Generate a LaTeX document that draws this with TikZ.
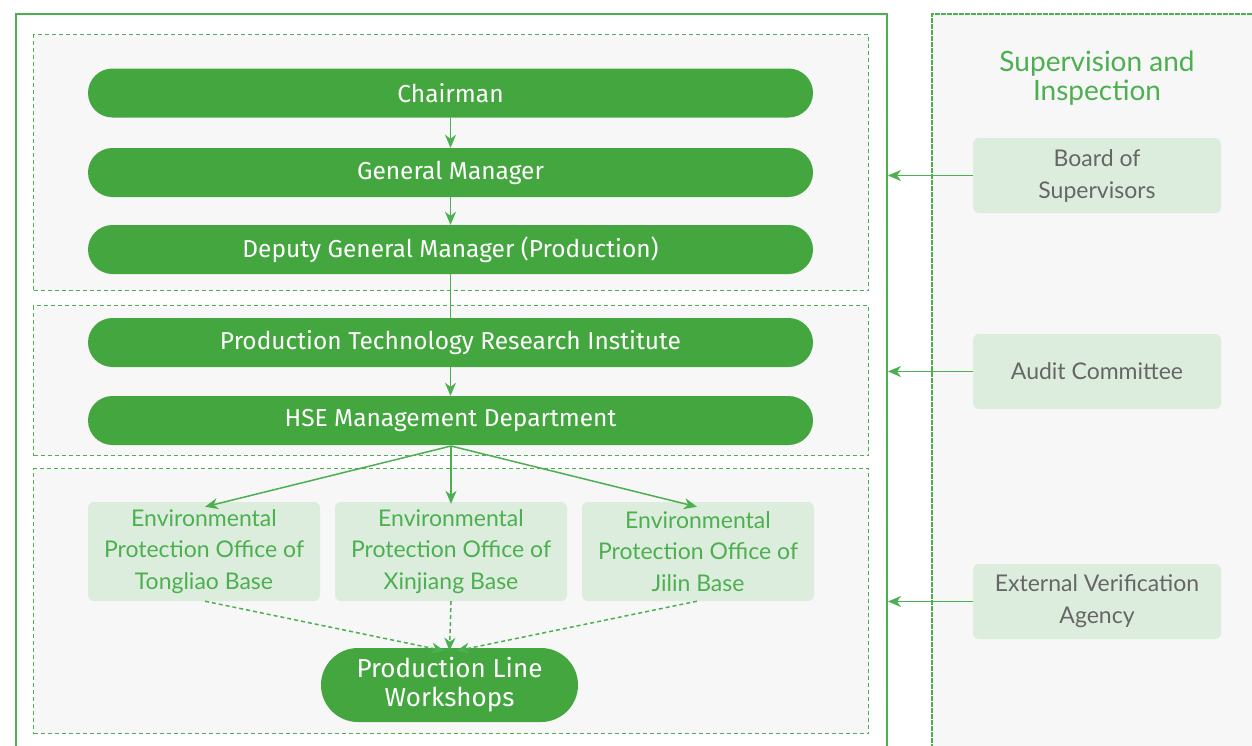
\documentclass[tikz,border=0pt]{standalone}
\usepackage{fontspec}
\setmainfont{Fira Sans}
\newfontfamily\softfont{Lato}
\usetikzlibrary{arrows.meta}
\definecolor{gdark}{HTML}{43A63F}
\definecolor{gline}{HTML}{4CAF50}
\definecolor{glight}{HTML}{DDEDDD}
\definecolor{bgray}{HTML}{F7F7F7}
\definecolor{tgray}{HTML}{666666}
\tikzset{
  pill/.style={draw=none, fill=gdark, text=white, rounded corners=24.5pt, minimum width=725pt, minimum height=49pt, inner sep=0pt, font=\fontsize{24.5}{28}\selectfont},
  envbox/.style={draw=none, fill=glight, text=gline, rounded corners=6pt, minimum width=232pt, minimum height=99pt, inner sep=0pt, align=center, font=\softfont\fontsize{23}{31.5}\selectfont},
  supbox/.style={draw=none, fill=glight, text=tgray, rounded corners=6pt, minimum width=248pt, minimum height=75pt, inner sep=0pt, align=center, font=\softfont\fontsize{23}{32}\selectfont},
  grp/.style={draw=gline, fill=bgray, line width=1pt, dash pattern=on 4pt off 3pt},
  conn/.style={draw=gline, line width=1.5pt, -{Stealth[length=13pt,width=11pt,inset=4pt]}},
  dconn/.style={conn, dash pattern=on 4pt off 3pt},
}
\begin{document}
\begin{tikzpicture}[x=1pt,y=-1pt]
\useasboundingbox (0,0) rectangle (1252,745);
\clip (0,0) rectangle (1252,745);
\fill[white] (0,0) rectangle (1252,745);
% outer frames
\node[draw=gline, line width=2pt, fill=white, minimum width=871pt, minimum height=780pt, inner sep=0pt, anchor=north west] (outer) at (15,13) {};
\node[draw=gline, line width=1.6pt, dash pattern=on 5pt off 1pt, fill=bgray, minimum width=400pt, minimum height=780pt, inner sep=0pt, anchor=north west] (right) at (931,13) {};
% groups
\node[grp, minimum width=835pt, minimum height=256pt, inner sep=0pt, anchor=north west] (g1) at (33,34) {};
\node[grp, minimum width=835pt, minimum height=150pt, inner sep=0pt, anchor=north west] (g2) at (33,305) {};
\node[grp, minimum width=835pt, minimum height=265pt, inner sep=0pt, anchor=north west] (g3) at (33,468) {};
% pills
\node[pill] (ch) at (450.5,93) {Chairman};
\node[pill] (gm) at (450.5,172.5) {General Manager};
\node[pill] (dgm) at (450.5,249.5) {Deputy General Manager (Production)};
\node[pill] (ptri) at (450.5,342.5) {Production Technology Research Institute};
\node[pill] (hse) at (450.5,420.5) {HSE Management Department};
% env boxes
\node[envbox] (e1) at (204,551.5) {Environmental\\Protection Office of\\Tongliao Base};
\node[envbox] (e2) at (451,551.5) {Environmental\\Protection Office of\\Xinjiang Base};
\node[envbox] (e3) at (698,551.5) {Environmental\\Protection Office of\\Jilin Base};
% workshops
\node[draw=none, fill=gdark, text=white, rounded corners=37pt, minimum width=257pt, minimum height=74pt, inner sep=0pt, align=center, font=\fontsize{26}{29}\selectfont] (plw) at (449.5,685) {Production Line\\Workshops};
% supervision
\node[text=gline, align=center, font=\softfont\fontsize{28}{29}\selectfont] (title) at (1097,78) {Supervision and\\Inspection};
\node[supbox] (bs) at (1097,175.5) {Board of\\Supervisors};
\node[supbox] (ac) at (1097,371.5) {Audit Committee};
\node[supbox] (ev) at (1097,601.5) {External Verification\\Agency};
% connectors
\draw[conn] (ch) -- (gm);
\draw[conn] (gm) -- (dgm);
\draw[gline, line width=1.5pt] (dgm) -- (ptri);
\draw[conn] (ptri) -- (hse);
\coordinate (hs) at (451,446);
\draw[conn] (hs) -- ([xshift=1pt,yshift=-5pt]e1.north);
\draw[conn] (hs) -- ([yshift=-2pt]e2.north);
\draw[conn] (hs) -- ([xshift=-1pt,yshift=-5pt]e3.north);
\draw[dconn] ([xshift=1pt]e1.south) -- ([xshift=-5pt,yshift=-3pt]plw.north);
\draw[dconn] (e2.south) -- ([yshift=-3pt]plw.north);
\draw[dconn] ([xshift=-1pt]e3.south) -- ([xshift=7pt,yshift=-3pt]plw.north);
\draw[conn] (bs.west) -- (bs.west -| outer.east);
\draw[conn] (ac.west) -- (ac.west -| outer.east);
\draw[conn] (ev.west) -- (ev.west -| outer.east);
\end{tikzpicture}
\end{document}
